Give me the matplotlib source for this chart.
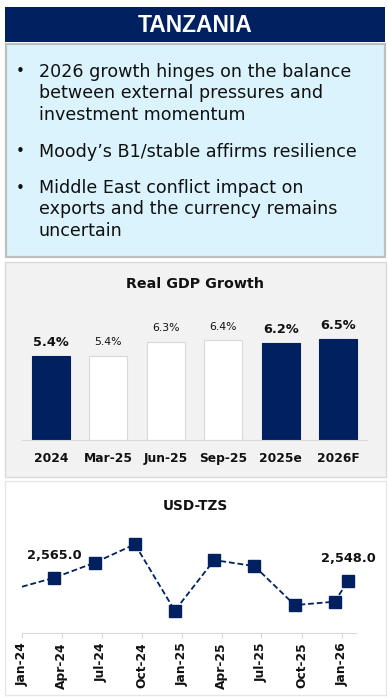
import matplotlib
matplotlib.use("Agg")
import matplotlib.pyplot as plt
import matplotlib.dates as mdates
from matplotlib.patches import Rectangle
import numpy as np
import pandas as pd

# ---------------- data ----------------
title = "TANZANIA"
bullets = [
    "2026 growth hinges on the balance\nbetween external pressures and\ninvestment momentum",
    "Moody\u2019s B1/stable affirms resilience",
    "Middle East conflict impact on\nexports and the currency remains\nuncertain",
]

gdp_categories = ["2024", "Mar-25", "Jun-25", "Sep-25", "2025e", "2026F"]
gdp_values = [5.4, 5.4, 6.3, 6.4, 6.2, 6.5]
gdp_annual = [True, False, False, False, True, True]

fx_dates = ["2024-01-01", "2024-03-15", "2024-06-15", "2024-09-15", "2024-12-15",
            "2025-03-15", "2025-06-15", "2025-09-15", "2025-12-15", "2026-01-15"]
fx_values = [2520, 2565, 2640, 2732, 2400, 2653, 2623, 2428, 2445, 2548]
fx_labelled = [1, 9]

NAVY = "#002060"
TXT = "#111111"
W, H = 388, 697

fig = plt.figure(figsize=(W / 100, H / 100), dpi=100)
fig.patch.set_facecolor("white")


def frect(x0, y0, x1, y1):
    return (x0 / W, 1 - y1 / H, (x1 - x0) / W, (y1 - y0) / H)


def add_box(x0, y0, x1, y1, fc, ec=None, lw=0):
    l, b, w, h = frect(x0, y0, x1, y1)
    fig.add_artist(Rectangle((l, b), w, h, transform=fig.transFigure,
                             facecolor=fc, edgecolor=ec if ec else fc,
                             linewidth=lw, zorder=0))


# header
add_box(5, 7, 385, 42, NAVY)
fig.text(195 / W, 1 - 25 / H, title, color="white", fontsize=16.5,
         fontweight="bold", family="Liberation Sans", ha="center", va="center")

# bullet box
add_box(6, 44, 385, 257, "#DAF3FD", "#BFBFBF", 1.6)
bullet_tops = [72, 152, 188]
line_h = 21.5
for t, y in zip(bullets, bullet_tops):
    fig.text(20 / W, 1 - y / H, "\u2022", fontsize=11, ha="center", va="center",
             color=TXT)
    for i, ln in enumerate(t.split("\n")):
        fig.text(39 / W, 1 - (y + i * line_h) / H, ln, fontsize=12.6,
                 ha="left", va="center", color=TXT, family="DejaVu Sans")

# GDP panel
add_box(5, 262, 386, 477, "#F2F2F2", "#D9D9D9", 1.0)
fig.text(195 / W, 1 - 284 / H, "Real GDP Growth", fontsize=10.3, fontweight="bold",
         ha="center", va="center", color=TXT)

ax1 = fig.add_axes(frect(22, 323, 367, 440))
ax1.set_facecolor("none")
x = np.arange(len(gdp_categories))
colors = [NAVY if a else "white" for a in gdp_annual]
edges = [NAVY if a else "#D9D9D9" for a in gdp_annual]
bars = ax1.bar(x, gdp_values, width=0.66, color=colors, edgecolor=edges, linewidth=0.8)
ax1.set_xlim(-0.5, len(x) - 0.5)
ax1.set_ylim(0, 7.5)
for b, v, a in zip(bars, gdp_values, gdp_annual):
    ax1.annotate(f"{v:.1f}%", (b.get_x() + b.get_width() / 2, v),
                 xytext=(0, 5 if a else 6), textcoords="offset points",
                 ha="center", va="bottom",
                 fontsize=9.3 if a else 7.8,
                 fontweight="bold" if a else "normal", color=TXT)
ax1.set_xticks(x)
ax1.set_xticklabels(gdp_categories, fontsize=8.8, fontweight="bold", color=TXT)
ax1.tick_params(axis="x", length=0, pad=8.5)
ax1.set_yticks([])
for s in ["top", "left", "right"]:
    ax1.spines[s].set_visible(False)
ax1.spines["bottom"].set_color("#D9D9D9")
ax1.spines["bottom"].set_linewidth(0.8)

# FX panel
add_box(5, 481, 386, 695, "white", "#E6E6E6", 1.0)
fig.text(195 / W, 1 - 506 / H, "USD-TZS", fontsize=9.8, fontweight="bold",
         ha="center", va="center", color=TXT)

ax2 = fig.add_axes(frect(22, 520, 356, 633))
ax2.set_facecolor("none")
d = pd.to_datetime(fx_dates)
ax2.plot(d, fx_values, color=NAVY, linestyle=(0, (3.2, 1.6)), linewidth=1.3,
         marker="s", markersize=8.9, markerfacecolor=NAVY, markeredgecolor=NAVY,
         markevery=list(range(1, len(fx_values))), clip_on=True)
for i in fx_labelled:
    ax2.annotate(f"{fx_values[i]:,.1f}", (d[i], fx_values[i]), xytext=(0, 16),
                 textcoords="offset points", ha="center", va="center",
                 fontsize=9.3, fontweight="bold", color=TXT,
                 annotation_clip=False)
ax2.set_xlim(pd.Timestamp("2024-01-01"), pd.Timestamp("2026-02-02"))
ax2.set_ylim(2288.5, 2853.5)
ax2.xaxis.set_major_locator(mdates.MonthLocator(bymonth=[1, 4, 7, 10]))
ax2.xaxis.set_major_formatter(mdates.DateFormatter("%b-%y"))
ax2.tick_params(axis="x", length=3.6, width=0.8, color="#D9D9D9", pad=3,
                labelsize=8.8, labelrotation=90, labelcolor=TXT)
for lbl in ax2.get_xticklabels():
    lbl.set_fontweight("bold")
ax2.set_yticks([])
for s in ["top", "left", "right"]:
    ax2.spines[s].set_visible(False)
ax2.spines["bottom"].set_color("#D9D9D9")
ax2.spines["bottom"].set_linewidth(0.8)

fig.savefig("out.png", dpi=100)
